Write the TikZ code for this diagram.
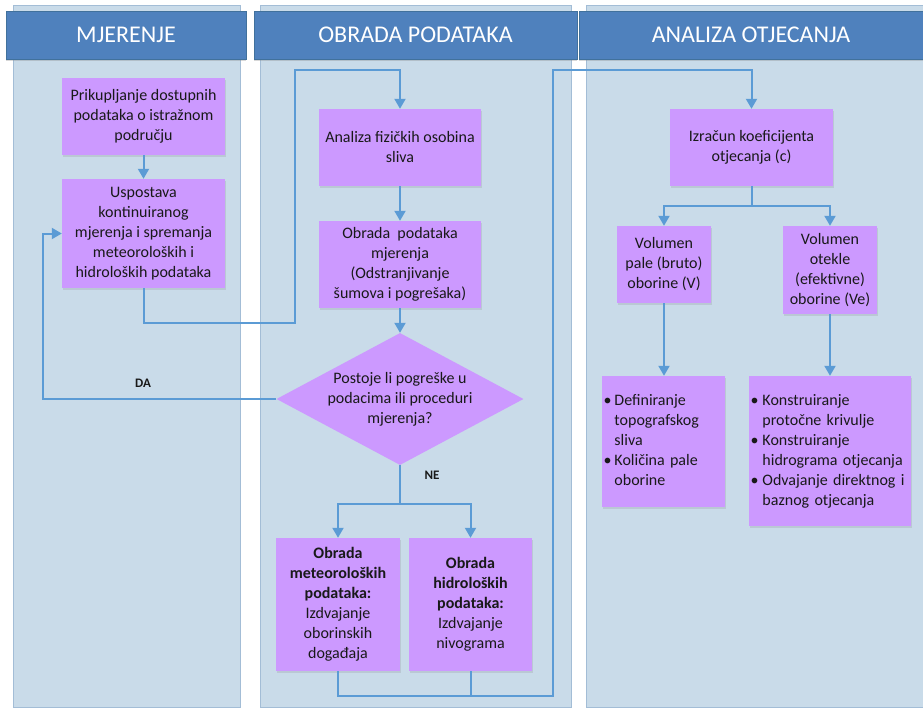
\documentclass[tikz,border=0pt]{standalone}
\usepackage{fontspec}
\setmainfont{Carlito}
\usetikzlibrary{shapes.geometric,arrows.meta,shadows}
\definecolor{traka}{HTML}{C9DBE9}
\definecolor{rubtrake}{HTML}{A3BDD6}
\definecolor{zaglavlje}{HTML}{4F81BD}
\definecolor{rubzaglavlja}{HTML}{41719C}
\definecolor{ljubicasta}{HTML}{CC99FF}
\definecolor{veza}{HTML}{5B9BD5}

\begin{document}
\begin{tikzpicture}[x=1pt,y=-1pt,
    naslov/.style={fill=zaglavlje,draw=rubzaglavlja,text=white,inner sep=0pt,
        font=\fontsize{24}{27}\selectfont,minimum height=48pt,
        drop shadow={opacity=0.3,shadow xshift=0pt,shadow yshift=-2pt}},
    tekst/.style={align=center,inner sep=0pt,text=black!90,font=\fontsize{16}{20}\selectfont},
    korak/.style={tekst,fill=ljubicasta,
        drop shadow={opacity=0.2,shadow xshift=1pt,shadow yshift=-1.5pt}},
    natpis/.style={font=\fontsize{13}{15}\selectfont\bfseries,text=black!90,inner sep=0pt},
    veza/.style={draw=veza,line width=2pt},
    strelica/.style={veza,-{Triangle[width=11pt,length=10pt]}}]
    \useasboundingbox (0,0) rectangle (923,707);
    \fill[white] (0,0) rectangle (923,707);
    \filldraw[fill=traka,draw=rubtrake] (13,5) rectangle (240,707);
    \filldraw[fill=traka,draw=rubtrake] (260,5) rectangle (571,707);
    \filldraw[fill=traka,draw=rubtrake] (586,5) rectangle (923,707);
    \node[naslov,minimum width=240pt] (ZMjer) at (126,35) {MJERENJE};
    \node[naslov,minimum width=323pt] (ZObr) at (415.5,35) {OBRADA PODATAKA};
    \node[naslov,minimum width=344pt] (ZAnal) at (751,35) {ANALIZA OTJECANJA};

    \node[korak,minimum width=163pt,minimum height=77pt] (Prik) at (143.5,116.5)
        {Prikupljanje dostupnih\\ podataka o istražnom\\ području};
    \node[korak,minimum width=163pt,minimum height=109pt] (Usp) at (143.5,233.5)
        {Uspostava\\ kontinuiranog\\ mjerenja i spremanja\\ meteoroloških i\\ hidroloških podataka};
    \node[korak,minimum width=162pt,minimum height=77pt] (Fiz) at (400,147.5)
        {Analiza fizičkih osobina\\ sliva};
    \node[korak,minimum width=162pt,minimum height=87pt] (ObrMj) at (400,264.5)
        {Obrada\ \ podataka\\ mjerenja\\ (Odstranjivanje\\ šumova i pogrešaka)};
    \node[diamond,fill=ljubicasta,inner sep=0pt,minimum width=247pt,minimum height=132pt] (Upit) at (400,399) {};
    \node[tekst] (UpitTekst) at (Upit)
        {Postoje li pogreške u\\ podacima ili proceduri\\ mjerenja?};
    \node[korak,minimum width=124pt,minimum height=133pt] (Met) at (338,604.5)
        {\textbf{Obrada}\\ \textbf{meteoroloških}\\ \textbf{podataka:}\\ Izdvajanje\\ oborinskih\\ događaja};
    \node[korak,minimum width=123pt,minimum height=133pt] (Hid) at (470.5,604.5)
        {\textbf{Obrada}\\ \textbf{hidroloških}\\ \textbf{podataka:}\\ Izdvajanje\\ nivograma};
    \node[korak,minimum width=163pt,minimum height=77pt] (Izr) at (751.5,147.5)
        {Izračun koeficijenta\\ otjecanja (c)};
    \node[korak,minimum width=94pt,minimum height=77pt] (VolV) at (664,264.5)
        {Volumen\\ pale (bruto)\\ oborine (V)};
    \node[korak,minimum width=94pt,minimum height=88pt] (VolVe) at (830,270)
        {Volumen\\ otekle\\ (efektivne)\\ oborine (Ve)};
    \node[korak,minimum width=123pt,minimum height=131pt,text width=122pt,align=left] (Def) at (663.5,441.5)
        {\hspace*{1pt}\begin{tabular}{@{}l@{\hspace{3pt}}l@{}}
        \textbullet & Definiranje\\ & topografskog\\ & sliva\\
        \textbullet & Količina pale\\ & oborine\end{tabular}};
    \node[korak,minimum width=162pt,minimum height=150pt,text width=161pt,align=left] (Kon) at (830,451)
        {\hspace*{1pt}\begin{tabular}{@{}l@{\hspace{4pt}}l@{}}
        \textbullet & Konstruiranje\\ & protočne krivulje\\
        \textbullet & Konstruiranje\\ & hidrograma otjecanja\\
        \textbullet & Odvajanje direktnog i\\ & baznog otjecanja\end{tabular}};

    \draw[strelica] (Prik) -- (Usp);
    \draw[strelica] (Usp.south) -- ++(0,35) -| (295,70) -| (Fiz.north);
    \draw[strelica] (Fiz) -- (ObrMj);
    \draw[strelica] (ObrMj.south) -- (Upit.north);
    \draw[strelica] (Upit.west) -- (43,399) |- (Usp.west);
    \node[natpis] (DA) at (143,383) {DA};
    \draw[veza] (Upit.south) -- (400,504) coordinate (Grana);
    \node[natpis] (NE) at (432,475) {NE};
    \draw[strelica] (Grana) -| (Met.north);
    \draw[strelica] (Grana) -| (Hid.north);
    \draw[strelica] (Met.south) |- (553,696) -- (553,70) -| (Izr.north);
    \draw[veza] (Hid.south) -- (Hid.south |- 0,696);
    \draw[veza] (Izr.south) -- (751.5,206) coordinate (Grana2);
    \draw[strelica] (Grana2) -| (VolV.north);
    \draw[strelica] (Grana2) -| (VolVe.north);
    \draw[strelica] (VolV.south) -- (VolV.south |- Def.north);
    \draw[strelica] (VolVe.south) -- (VolVe.south |- Kon.north);
\end{tikzpicture}
\end{document}
